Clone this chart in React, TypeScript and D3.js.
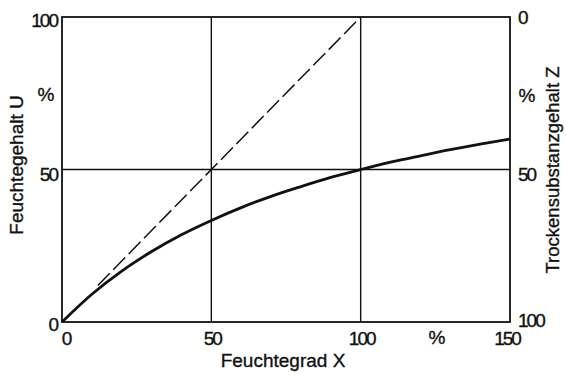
import { useEffect, useRef } from 'react'
import * as d3 from 'd3'

const W = 566
const H = 375

// Feuchtegrad X (%) and Feuchtegehalt U (%)
const curveX = [0, 10, 20, 30, 40, 50, 60, 70, 80, 90, 100, 110, 120, 130, 140, 150]
const curveU = [0, 9.1, 16.7, 23.1, 28.6, 33.3, 37.5, 41.2, 44.4, 47.4, 50, 52.4, 54.5, 56.5, 58.3, 60]

// dashed reference line U = X
const dashX = [12, 100]
const dashU = [12, 100]

const xTicks = [0, 50, 100, 150]
const uTicks = [0, 50, 100]
const zTicks = [0, 50, 100]

const FONT = '"Liberation Sans", Arial, sans-serif'

export default function App() {
  const ref = useRef<SVGSVGElement | null>(null)

  useEffect(() => {
    const svg = d3.select(ref.current)
    svg.selectAll('*').remove()

    const left = 62
    const right = 510
    const top = 17
    const bottom = 322

    const x = d3.scaleLinear().domain([0, 150]).range([left, right])
    const y = d3.scaleLinear().domain([0, 100]).range([bottom, top])
    const z = d3.scaleLinear().domain([0, 100]).range([top, bottom])

    svg.append('rect').attr('width', W).attr('height', H).attr('fill', '#fff')

    // grid lines
    const grid = svg.append('g').attr('stroke', '#111').attr('stroke-width', 1.4)
    ;[50, 100].forEach((v) => {
      grid.append('line').attr('x1', x(v)).attr('x2', x(v)).attr('y1', top).attr('y2', bottom)
    })
    grid.append('line').attr('x1', left).attr('x2', right).attr('y1', y(50)).attr('y2', y(50))

    // frame
    svg
      .append('rect')
      .attr('x', left)
      .attr('y', top)
      .attr('width', right - left)
      .attr('height', bottom - top)
      .attr('fill', 'none')
      .attr('stroke', '#111')
      .attr('stroke-width', 1.8)

    // dashed line
    const dashLine = d3
      .line<number>()
      .x((d) => x(d))
      .y((_, i) => y(dashU[i]))
    svg
      .append('path')
      .attr('d', dashLine(dashX))
      .attr('fill', 'none')
      .attr('stroke', '#111')
      .attr('stroke-width', 1.5)
      .attr('stroke-dasharray', '17 5')

    // curve
    const curve = d3
      .line<number>()
      .x((d) => x(d))
      .y((_, i) => y(curveU[i]))
      .curve(d3.curveMonotoneX)
    svg
      .append('path')
      .attr('d', curve(curveX))
      .attr('fill', 'none')
      .attr('stroke', '#111')
      .attr('stroke-width', 2.8)

    const txt = svg
      .append('g')
      .attr('font-family', FONT)
      .attr('fill', '#111')
      .attr('stroke', '#111')
      .attr('stroke-width', 0.35)

    const num = (tx: number, ty: number, s: string, anchor: string) =>
      txt
        .append('text')
        .attr('x', tx)
        .attr('y', ty)
        .attr('dy', '0.36em')
        .attr('text-anchor', anchor)
        .attr('font-size', 19)
        .attr('letter-spacing', s === '%' ? 0 : -2)
        .text(s)

    // left ticks
    uTicks.forEach((v) => {
      num(left - 5, y(v) + (v === 100 ? 3 : v === 50 ? 5 : 2), String(v), 'end')
    })
    num(46, 94, '%', 'middle')

    // right ticks (Z = 100 - U)
    zTicks.forEach((v) => {
      num(right + 8, z(v) + (v === 100 ? -2 : v === 50 ? 5 : 0), String(v), 'start')
    })
    num(527, 95, '%', 'middle')

    // bottom ticks
    xTicks.forEach((v) => {
      num(v === 0 ? x(v) + 4 : v === 150 ? x(v) - 3 : x(v) + 1, 338, String(v), 'middle')
    })
    num(437, 337, '%', 'middle')

    // axis titles
    txt.append('text').attr('x', 283).attr('y', 360).attr('dy', '0.36em')
      .attr('text-anchor', 'middle').attr('font-size', 19).text('Feuchtegrad X')
    txt.append('text')
      .attr('transform', `translate(16,${165}) rotate(-90)`)
      .attr('dy', '0.36em')
      .attr('text-anchor', 'middle').attr('font-size', 19).text('Feuchtegehalt U')
    txt.append('text')
      .attr('transform', `translate(552,${170}) rotate(-90)`)
      .attr('dy', '0.36em')
      .attr('text-anchor', 'middle').attr('font-size', 18.5).text('Trockensubstanzgehalt Z')
  }, [])

  return (
    <div style={{ position: 'absolute', left: 0, top: 0 }}>
      <svg ref={ref} width={W} height={H} style={{ display: 'block' }} />
    </div>
  )
}
